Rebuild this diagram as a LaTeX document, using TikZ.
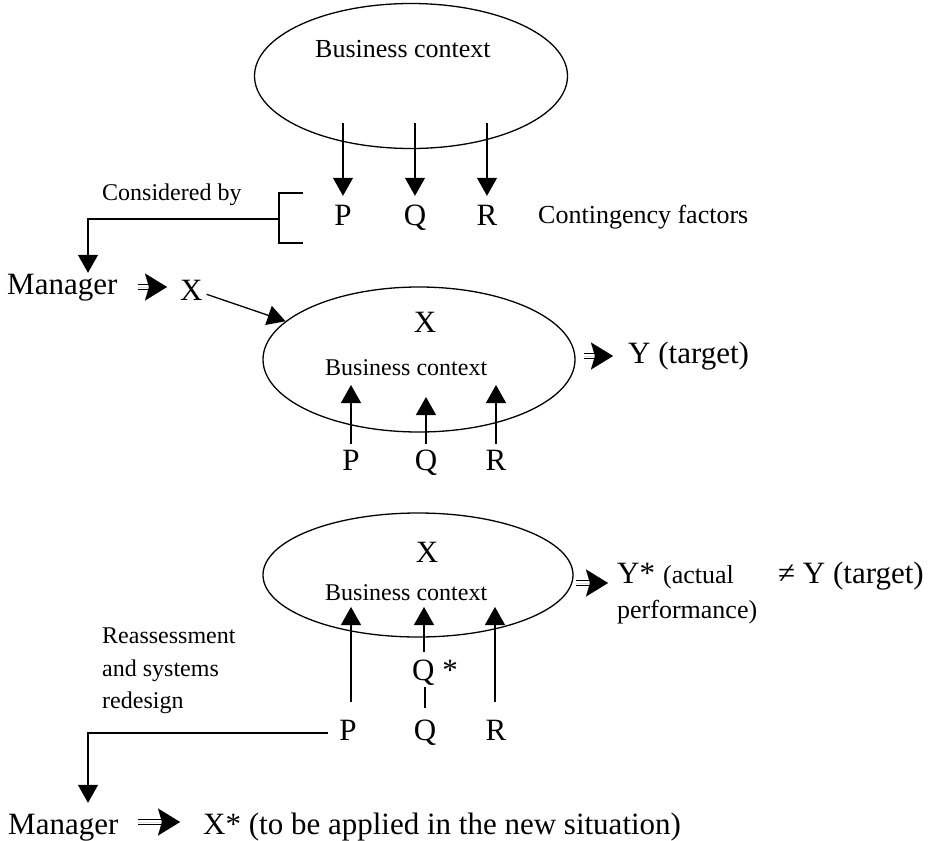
\documentclass[tikz,border=0pt]{standalone}
\usepackage{fontspec}
\setmainfont{Liberation Serif}
\usetikzlibrary{shapes.geometric,arrows.meta}
\begin{document}
\begin{tikzpicture}[x=1pt,y=-1pt,
  every node/.style={inner sep=0pt},
  big/.style={font=\fontsize{31}{34}\selectfont, text height=21pt, text depth=7pt},
  mid/.style={font=\fontsize{26}{30}\selectfont, text height=18pt, text depth=6pt},
  small/.style={font=\fontsize{24}{28}\selectfont, text height=16.5pt, text depth=5pt},
  ctx/.style={draw, ellipse, line width=1.3pt},
  plain/.style={line width=1.3pt},
  arr/.style={line width=1.3pt, -{Triangle[length=18pt,width=20pt]}},
  dblarrow/.style={
    postaction={draw, double, line width=1.3pt, double distance=3.2pt, shorten >=14pt},
    postaction={draw, line width=0.01pt, -{Stealth[length=22pt,width=27pt,inset=4pt]}}}
]
\useasboundingbox (0,0) rectangle (930,841);

% ---------- first stage: the business context and its factors ----------
\node[ctx, minimum width=313pt, minimum height=145pt] (e1) at (411,76) {};
\node[mid, anchor=base west] (bc1) at (315,57) {Business context};

\node[big, anchor=base] (p1) at (343,225) {P};
\node[big, anchor=base] (q1) at (415,225) {Q};
\node[big, anchor=base] (r1) at (487,225) {R};
\node[mid, anchor=base west] (cf) at (538,223) {Contingency factors};

\coordinate (p1s) at (343,123);
\coordinate (q1s) at (415,123);
\coordinate (r1s) at (487,123);
\draw[arr, shorten >=8pt] (p1s) -- (p1);
\draw[arr, shorten >=8pt] (q1s) -- (q1);
\draw[arr, shorten >=8pt] (r1s) -- (r1);

% bracket gathering the factors
\coordinate (bt) at (303,193);
\coordinate (bb) at (303,243);
\coordinate (bm) at (279,219);
\coordinate (c1) at (88,219);
\draw[plain] (bt) -- ++(-24,0) -- ++(0,50) -- (bb);
\node[small, anchor=base west] (cons) at (102,200) {Considered by};

\node[big, anchor=base west] (mgr1) at (7,294) {Manager};
\node[big, anchor=base west] (x1) at (180,300) {X};
\draw[arr] (bm) -- (c1) -- (c1 |- mgr1.north);
\path[dblarrow] ([xshift=20pt]mgr1.east) -- ([xshift=-13pt]mgr1.east -| x1.west);

% ---------- second stage: X applied in the context ----------
\node[ctx, minimum width=312pt, minimum height=145pt] (e2) at (419,359.5) {};
\node[big, anchor=base] (x2) at (425,332) {X};
\node[small, anchor=base west] (bc2) at (325,375) {Business context};
\draw[arr, shorten <=4pt] (x1.east) -- (e2.164);

\node[big, anchor=base] (p2) at (351,470) {P};
\node[big, anchor=base] (q2) at (426,470) {Q};
\node[big, anchor=base] (r2) at (496,470) {R};
\coordinate (p2t) at (351,385);
\coordinate (q2t) at (426,397);
\coordinate (r2t) at (496,385);
\draw[arr, shorten <=5pt] (p2) -- (p2t);
\draw[arr, shorten <=5pt] (q2) -- (q2t);
\draw[arr, shorten <=5pt] (r2) -- (r2t);

\node[big, anchor=base west] (yt) at (628,363) {Y (target)};
\path[dblarrow] ([xshift=8pt]e2.east |- yt.west) -- ([xshift=-15pt]yt.west);

% ---------- third stage: changed factor and actual performance ----------
\node[ctx, minimum width=310pt, minimum height=124pt] (e3) at (418,575) {};
\node[big, anchor=base] (x3) at (427,562) {X};
\node[small, anchor=base west] (bc3) at (325,600) {Business context};

\node[big, anchor=base west] (ys) at (617,583) {Y*};
\node[mid, anchor=base west] (act) at (663,583) {(actual};
\node[mid, anchor=base west] (perf) at (617,618) {performance)};
\node[big, anchor=base west] (neq) at (778,583) {≠ Y (target)};
\path[dblarrow] ([shift={(2pt,-8pt)}]e3.east) -- ([shift={(-9pt,-8pt)}]e3.east -| ys.west);

\node[small, anchor=base west] (ra1) at (102,643) {Reassessment};
\node[small, anchor=base west] (ra2) at (102,676) {and systems};
\node[small, anchor=base west] (ra3) at (102,708) {redesign};

\node[big, anchor=base west] (qs) at (412,680) {Q *};
\node[big, anchor=base] (p3) at (348,740) {P};
\node[big, anchor=base] (q3) at (425,740) {Q};
\node[big, anchor=base] (r3) at (496,740) {R};

\coordinate (p3t) at (351,607);
\coordinate (q3t) at (424,607);
\coordinate (r3t) at (495,607);
\draw[arr, shorten <=17pt] (p3t |- p3.north) -- (p3t);
\draw[arr, shorten <=7pt] (q3t |- qs.north) -- (q3t);
\draw[arr, shorten <=17pt] (r3t |- r3.north) -- (r3t);
\draw[plain, shorten >=11pt] (q3.north |- qs.south) -- (q3.north);

% ---------- redesign loop back to the manager ----------
\node[big, anchor=base west] (mgr2) at (8,834) {Manager};
\node[big, anchor=base west] (xs) at (203,834) {X* (to be applied in the new situation)};
\coordinate (c2) at (88,0);
\draw[arr, shorten <=11pt, shorten >=10pt] (p3.west) -- (p3.west -| c2) -- (c2 |- mgr2.north);
\path[dblarrow] ([shift={(19pt,5pt)}]mgr2.east) -- ([shift={(-23pt,5pt)}]mgr2.east -| xs.west);
\end{tikzpicture}
\end{document}
